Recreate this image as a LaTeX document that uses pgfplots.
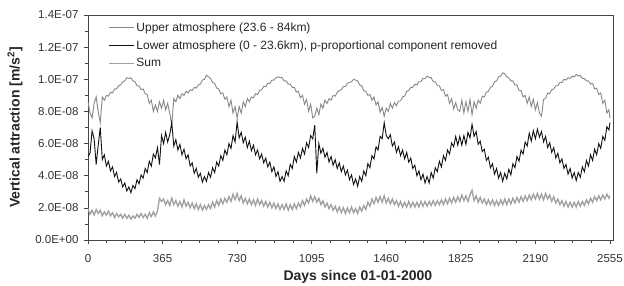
\documentclass[border=0pt]{standalone}
\usepackage{fontspec}
\setmainfont{Liberation Sans}
\usepackage{pgfplots}
\usepackage{pgfplotstable}
\pgfplotsset{compat=1.18}
% values in units of 1E-08 m/s^2
\pgfplotstableread{
d U L S
0 8.6 5.2 1.95
10 7.9 5.4 1.6
20 7.6 6.8 1.85
30 8.5 6.3 1.55
40 8.9 4.7 1.9
50 8.0 5.9 1.65
60 7.3 7.0 1.85
70 8.9 5.0 1.5
80 8.7 5.3 1.75
90 9.0 4.6 1.55
100 8.95 4.9 1.8
110 9.2 4.3 1.5
120 9.15 4.55 1.7
130 9.4 3.95 1.4
140 9.4 4.2 1.65
150 9.6 3.6 1.45
160 9.65 3.8 1.6
170 9.85 3.3 1.35
180 9.9 3.55 1.6
190 10.1 3.05 1.35
200 10.05 3.3 1.55
210 10.1 2.95 1.3
220 9.9 3.4 1.5
230 9.85 3.2 1.35
240 9.6 3.75 1.6
250 9.6 3.5 1.4
260 9.35 4.05 1.65
270 9.4 3.85 1.4
280 9.1 4.45 1.6
290 9.05 4.2 1.35
300 8.5 4.9 1.7
310 8.7 4.6 1.45
320 8.0 5.35 1.75
330 8.4 5.1 1.5
340 8.0 5.75 1.8
350 8.6 4.7 2.6
360 8.2 6.5 2.4
370 8.7 6.0 2.55
380 8.1 6.7 2.2
390 8.5 6.1 2.45
400 7.9 6.55 2.15
410 7.15 7.3 2.6
420 8.8 5.85 2.2
430 8.6 6.25 2.45
440 9.0 5.6 2.1
450 8.8 5.95 2.4
460 9.1 5.3 2.05
470 9.0 5.65 2.5
480 9.25 5.05 2.1
490 9.15 5.3 2.35
500 9.35 4.6 2.0
510 9.3 4.8 2.3
520 9.5 4.15 1.95
530 9.45 4.45 2.25
540 9.65 3.9 1.9
550 9.7 4.15 2.2
560 9.95 3.6 1.85
570 10.0 3.95 2.15
580 10.25 3.65 1.9
590 10.15 4.2 2.2
600 10.05 3.9 1.95
610 9.8 4.5 2.35
620 9.75 4.2 2.05
630 9.45 4.85 2.45
640 9.4 4.6 2.15
650 9.1 5.25 2.55
660 9.15 4.95 2.25
670 8.75 5.6 2.6
680 8.9 5.3 2.35
690 8.3 6.0 2.7
700 8.7 5.7 2.4
710 7.9 6.5 2.85
720 8.3 6.1 2.5
730 7.6 7.35 2.9
740 8.3 6.35 2.45
750 7.9 6.7 2.75
760 8.6 6.05 2.3
770 8.3 6.4 2.6
780 8.8 5.75 2.25
790 8.6 6.15 2.55
800 8.9 5.55 2.2
810 8.85 5.9 2.5
820 9.1 5.3 2.15
830 9.05 5.6 2.55
840 9.3 5.05 2.2
850 9.35 5.35 2.45
860 9.55 4.8 2.1
870 9.55 5.1 2.4
880 9.75 4.55 2.05
890 9.75 4.85 2.35
900 9.95 4.25 2.0
910 9.95 4.55 2.3
920 10.1 3.95 1.95
930 10.15 4.25 2.25
940 10.1 3.65 1.9
950 10.1 3.95 2.2
960 9.9 3.65 1.9
970 9.9 4.3 2.25
980 9.7 4.0 1.85
990 9.7 4.7 2.2
1000 9.5 4.45 1.9
1010 9.5 5.2 2.25
1020 9.2 4.85 1.95
1030 9.25 5.45 2.3
1040 8.85 5.1 2.05
1050 9.0 5.7 2.45
1060 8.45 5.35 2.15
1070 8.75 6.05 2.55
1080 8.0 5.75 2.3
1090 8.45 6.5 2.75
1100 7.6 6.3 2.4
1110 7.7 7.15 2.7
1120 8.2 4.15 2.35
1130 7.8 6.0 2.6
1140 8.45 5.4 2.2
1150 8.2 5.7 2.45
1160 8.7 5.15 2.05
1170 8.5 5.45 2.3
1180 8.8 4.85 1.95
1190 8.7 5.2 2.2
1200 9.0 4.65 1.85
1210 8.95 5.0 2.1
1220 9.2 4.45 1.75
1230 9.3 4.8 2.05
1240 9.35 4.25 1.7
1250 9.55 4.6 2.0
1260 9.55 4.05 1.65
1270 9.75 4.35 2.0
1280 9.8 3.75 1.7
1290 9.85 4.05 2.05
1300 10.0 3.45 1.7
1310 9.95 3.8 1.95
1320 9.9 3.35 1.65
1330 9.65 3.95 2.05
1340 9.6 3.65 1.8
1350 9.3 4.3 2.15
1360 9.25 4.0 1.9
1370 9.0 4.75 2.35
1380 9.05 4.5 2.1
1390 8.7 5.25 2.55
1400 8.9 5.05 2.25
1410 8.4 5.8 2.65
1420 8.6 5.6 2.35
1430 7.95 6.45 2.7
1440 8.25 6.3 2.35
1450 7.7 7.3 2.75
1460 8.2 6.5 2.3
1470 8.0 6.3 2.6
1480 8.5 6.55 2.25
1490 8.2 5.85 2.55
1500 8.55 6.1 2.2
1510 8.35 5.45 2.45
1520 8.65 5.8 2.1
1530 8.65 5.25 2.4
1540 8.9 5.6 2.05
1550 8.95 5.05 2.35
1560 9.25 5.45 2.05
1570 9.3 4.85 2.4
1580 9.5 5.1 2.05
1590 9.5 4.45 2.35
1600 9.7 4.65 2.05
1610 9.65 4.0 2.35
1620 9.85 4.3 2.05
1630 9.85 3.75 2.4
1640 10.05 4.1 2.1
1650 10.05 3.55 2.4
1660 10.2 3.95 2.1
1670 10.1 3.55 2.4
1680 10.1 4.2 2.15
1690 9.85 3.85 2.45
1700 9.85 4.5 2.15
1710 9.6 4.25 2.45
1720 9.6 4.9 2.2
1730 9.3 4.55 2.5
1740 9.35 5.25 2.2
1750 8.95 4.95 2.55
1760 9.05 5.6 2.25
1770 8.5 5.35 2.6
1780 8.8 6.05 2.3
1790 8.15 5.8 2.65
1800 8.55 6.45 2.35
1810 8.1 5.9 2.7
1820 8.0 6.45 2.4
1830 8.7 5.9 2.8
1840 7.9 6.5 2.45
1850 8.6 5.95 2.75
1860 8.0 6.7 2.4
1870 8.75 6.35 2.8
1880 7.8 7.2 3.1
1890 8.6 6.45 2.45
1900 8.2 6.75 2.75
1910 8.7 5.95 2.35
1920 8.5 6.15 2.65
1930 8.95 5.5 2.3
1940 8.9 5.65 2.55
1950 9.2 4.95 2.2
1960 9.25 5.15 2.5
1970 9.5 4.5 2.2
1980 9.55 4.75 2.5
1990 9.85 4.1 2.15
2000 9.9 4.45 2.45
2010 10.15 3.85 2.15
2020 10.2 4.2 2.5
2030 10.4 3.65 2.2
2040 10.35 4.15 2.55
2050 10.15 3.8 2.2
2060 10.1 4.4 2.55
2070 9.9 4.05 2.25
2080 9.9 4.75 2.6
2090 9.65 4.5 2.3
2100 9.65 5.2 2.65
2110 9.3 4.9 2.35
2120 9.3 5.6 2.7
2130 8.9 5.35 2.4
2140 9.0 6.1 2.75
2150 8.5 5.85 2.45
2160 8.9 6.65 2.8
2170 8.3 6.15 2.5
2180 8.75 6.8 2.85
2190 8.1 6.3 2.55
2200 8.55 6.9 2.9
2210 7.9 6.4 2.55
2220 7.7 6.75 2.85
2230 8.75 6.1 2.5
2240 8.8 6.45 2.9
2250 9.15 5.75 2.55
2260 9.1 6.05 2.8
2270 9.35 5.45 2.4
2280 9.4 5.75 2.7
2290 9.6 5.1 2.3
2300 9.6 5.4 2.55
2310 9.8 4.8 2.2
2320 9.8 5.05 2.45
2330 10.0 4.45 2.1
2340 9.95 4.7 2.4
2350 10.1 4.1 2.05
2360 10.05 4.45 2.35
2370 10.2 3.85 2.05
2380 10.15 4.2 2.35
2390 10.3 3.7 2.05
2400 10.2 4.2 2.4
2410 10.25 3.9 2.1
2420 10.05 4.55 2.4
2430 10.05 4.25 2.15
2440 9.9 4.95 2.5
2450 9.9 4.6 2.25
2460 9.7 5.3 2.6
2470 9.75 4.95 2.35
2480 9.4 5.65 2.7
2490 9.45 5.3 2.45
2500 9.05 6.0 2.75
2510 9.15 5.7 2.5
2520 8.5 6.45 2.8
2530 8.7 6.2 2.55
2540 7.9 7.05 2.85
2550 8.1 6.85 2.6
2555 7.6 7.3 2.75
}\datatable
\definecolor{upper}{RGB}{135,135,135}
\definecolor{sumc}{RGB}{160,160,160}
\definecolor{lower}{RGB}{17,17,17}
\definecolor{frame}{RGB}{70,70,70}
\begin{document}
\begin{tikzpicture}
\useasboundingbox (-88pt,-45pt) rectangle (536pt,240pt);
\begin{axis}[
  scale only axis,
  width=525pt, height=225pt,
  xmin=0, xmax=2570, ymin=0, ymax=14,
  xtick={0,365,730,1095,1460,1825,2190,2555},
  xticklabels={0,365,730,1095,1460,1825,2190,2555},
  ytick={0,2,4,6,8,10,12,14},
  yticklabels={0.0E+00,2.0E-08,4.0E-08,6.0E-08,8.0E-08,1.0E-07,1.2E-07,1.4E-07},
  minor x tick num=3,
  minor y tick num=1,
  tick align=outside,
  tick pos=left,
  major tick length=4pt,
  minor tick length=3pt,
  tick style={frame, line width=0.7pt},
  axis line style={frame, line width=0.8pt},
  ticklabel style={font=\fontsize{11.5}{13}\selectfont, color=black!80},
  xticklabel style={yshift=-7pt},
  yticklabel style={xshift=-2pt},
  xlabel={\textbf{Days since 01-01-2000}},
  ylabel={\textbf{Vertical attraction [m/s\textsuperscript{2}]}},
  xlabel style={at={(rel axis cs:0.514,-0.166)}, anchor=center},
  ylabel style={at={(rel axis cs:-0.139,0.5)}, anchor=center},
  label style={font=\fontsize{14}{16}\selectfont, color=black!85},
  legend style={at={(0.038,0.975)}, anchor=north west, draw=none, fill=none,
    font=\fontsize{12}{14}\selectfont, row sep=3.5pt, inner sep=0pt,
    text=black!85},
  legend cell align=left,
  legend image code/.code={\draw[#1] (0pt,0pt) -- (25pt,0pt);},
]
\addplot[upper, line width=0.9pt] table[x=d, y=U] {\datatable};
\addlegendentry{Upper atmosphere (23.6 - 84km)}
\addplot[lower, line width=0.9pt] table[x=d, y=L] {\datatable};
\addlegendentry{Lower atmosphere (0 - 23.6km), p-proportional component removed}
\addplot[sumc, line width=1.3pt] table[x=d, y=S] {\datatable};
\addlegendentry{Sum}
\end{axis}
\end{tikzpicture}
\end{document}
